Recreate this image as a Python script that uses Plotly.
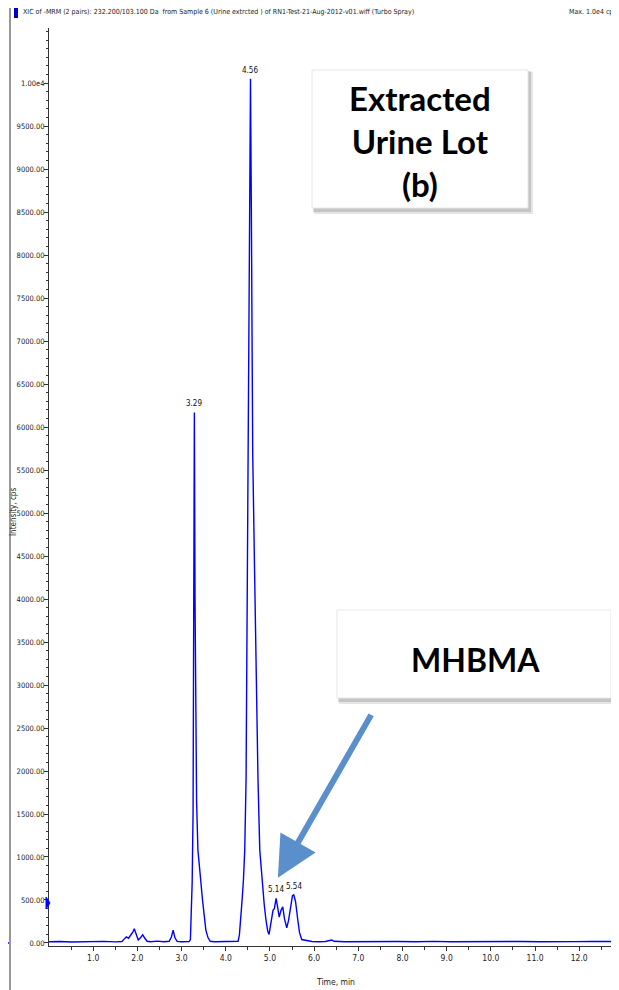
import plotly.graph_objects as go

# ---------------- data ----------------
time_min = [0.00, 0.25, 0.50, 0.75, 1.00, 1.25, 1.50, 1.65,
            1.70, 1.75, 1.80, 1.85, 1.90, 1.93, 1.97, 2.02, 2.07, 2.12, 2.17, 2.22,
            2.30, 2.45, 2.60, 2.72, 2.77, 2.81, 2.85, 2.90, 3.00, 3.10, 3.17,
            3.20, 3.22, 3.24, 3.26, 3.275, 3.29, 3.305, 3.32, 3.34, 3.37, 3.40,
            3.43, 3.47, 3.51, 3.55, 3.60, 3.65, 3.75, 3.90, 4.05, 4.20,
            4.28, 4.31, 4.34, 4.37, 4.40, 4.43, 4.46, 4.48, 4.50, 4.53, 4.56,
            4.58, 4.61, 4.65, 4.69, 4.73, 4.77, 4.82, 4.87, 4.91, 4.95, 4.98,
            5.02, 5.07, 5.10, 5.14, 5.18, 5.21, 5.25, 5.29, 5.33, 5.38, 5.42,
            5.47, 5.51, 5.54, 5.58, 5.63, 5.67, 5.72, 5.78, 5.85, 5.95,
            6.10, 6.25, 6.40, 6.45, 6.70, 7.10, 7.50, 7.90, 8.30, 8.70, 9.10,
            9.50, 9.90, 10.30, 10.70, 11.10, 11.50, 11.90, 12.30, 12.70, 12.90]
intensity_cps = [15, 18, 12, 16, 14, 19, 13, 17,
                 45, 70, 55, 90, 130, 165, 110, 35, 60, 95, 55, 20,
                 15, 22, 14, 20, 70, 150, 60, 18, 15, 14, 16,
                 40, 300, 700, 1500, 3500, 6170, 4000, 2500, 1650, 1080, 950,
                 750, 520, 300, 150, 60, 20, 15, 18, 14, 16,
                 20, 100, 270, 500, 730, 1080, 1900, 3500, 5700, 8300, 10050,
                 8500, 5700, 4400, 3100, 1900, 1080, 730, 450, 270, 140, 100,
                 220, 380, 400, 520, 400, 300, 380, 420, 280, 175, 260,
                 430, 550, 560, 480, 270, 120, 40, 35, 25, 18,
                 15, 18, 35, 20, 14, 17, 13, 18, 15, 19, 14,
                 17, 20, 15, 18, 14, 19, 16, 18, 15, 16]

peak_times = [3.29, 4.56, 5.14, 5.54]
peak_heights = [6170, 10050, 520, 560]
peak_labels = ["3.29", "4.56", "5.14", "5.54"]

y_tick_vals = [0, 500, 1000, 1500, 2000, 2500, 3000, 3500, 4000, 4500, 5000,
               5500, 6000, 6500, 7000, 7500, 8000, 8500, 9000, 9500, 10000]
y_tick_text = ["0.00", "500.00", "1000.00", "1500.00", "2000.00", "2500.00",
               "3000.00", "3500.00", "4000.00", "4500.00", "5000.00", "5500.00",
               "6000.00", "6500.00", "7000.00", "7500.00", "8000.00", "8500.00",
               "9000.00", "9500.00", "1.00e4"]
x_tick_vals = [1, 2, 3, 4, 5, 6, 7, 8, 9, 10, 11, 12]
x_tick_text = ["1.0", "2.0", "3.0", "4.0", "5.0", "6.0", "7.0", "8.0",
               "9.0", "10.0", "11.0", "12.0"]

header_text = ("XIC of -MRM (2 pairs): 232.200/103.100 Da  from Sample 6 (Urine extrcted ) "
               "of RN1-Test-21-Aug-2012-v01.wiff (Turbo Spray)")
max_text = "Max. 1.0e4 cps."

# ---------------- layout geometry ----------------
# the page body has an 8px margin, so the figure is drawn 8px in from the corner
OFF = 8
W, H = 619 - OFF, 990 - OFF
L, R, T, B = 49 - OFF, 619 - OFF, 28 - OFF, 946 - OFF


def px(xr):
    """reference-picture x pixel -> paper x"""
    return (xr - OFF - L) / (R - L)


def py(yr):
    """reference-picture y pixel -> paper y"""
    return (B - (yr - OFF)) / (B - T)


NARROW = "Liberation Sans Narrow, Arial Narrow, DejaVu Sans Condensed, sans-serif"
BOLD = "Lato, Open Sans, sans-serif"

fig = go.Figure()
fig.add_trace(go.Scatter(x=time_min, y=intensity_cps, mode="lines",
                         line=dict(color="#0000ff", width=1.4),
                         hoverinfo="skip", showlegend=False))

annotations = []
for t, h, lab in zip(peak_times, peak_heights, peak_labels):
    annotations.append(dict(x=t, y=h, text=lab, showarrow=False, yanchor="bottom",
                            yshift=2, font=dict(family=NARROW, size=8, color="#111")))

# header
annotations.append(dict(xref="paper", yref="paper", x=px(21), y=py(12), text=header_text,
                        showarrow=False, xanchor="left", yanchor="middle",
                        font=dict(family=NARROW, size=7, color="#222")))
annotations.append(dict(xref="paper", yref="paper", x=px(567), y=py(12), text=max_text,
                        showarrow=False, xanchor="left", yanchor="middle",
                        font=dict(family=NARROW, size=7, color="#222")))
# axis titles
annotations.append(dict(xref="paper", yref="paper", x=px(335), y=py(982), text="Time, min",
                        showarrow=False, xanchor="center", yanchor="middle",
                        font=dict(family=NARROW, size=8.5, color="#222")))
annotations.append(dict(xref="paper", yref="paper", x=px(13), y=py(512), text="Intensity, cps",
                        showarrow=False, textangle=-90, xanchor="center", yanchor="middle",
                        font=dict(family=NARROW, size=8, color="#222")))
# callout texts
annotations.append(dict(xref="paper", yref="paper", x=px(420), y=py(141),
                        text="<b>Extracted</b><br><b>Urine Lot</b><br><b>(b)</b>",
                        showarrow=False, xanchor="center", yanchor="middle",
                        font=dict(family=BOLD, size=33, color="#000")))
annotations.append(dict(xref="paper", yref="paper", x=px(475), y=py(659),
                        text="<b>MHBMA</b>",
                        showarrow=False, xanchor="center", yanchor="middle",
                        font=dict(family=BOLD, size=32, color="#000")))
# arrow
annotations.append(dict(x=5.18, y=760, ax=7.31, ay=2670, axref="x", ayref="y",
                        xref="x", yref="y", text="", showarrow=True, arrowhead=2,
                        arrowsize=1.35, arrowwidth=6, arrowcolor="#5B8FCB"))

shapes = []
# frame lines
shapes.append(dict(type="line", xref="paper", yref="paper", x0=px(10), x1=px(10),
                   y0=py(3), y1=py(990), line=dict(color="#333", width=1)))
shapes.append(dict(type="line", xref="paper", yref="paper", x0=px(10), x1=px(619),
                   y0=py(3), y1=py(3), line=dict(color="#333", width=1)))
shapes.append(dict(type="rect", xref="paper", yref="paper", x0=px(14), x1=px(18),
                   y0=py(18), y1=py(6), fillcolor="#0000cc", line=dict(width=0)))
shapes.append(dict(type="line", xref="paper", yref="paper", x0=px(8), x1=px(9),
                   y0=py(943), y1=py(943), line=dict(color="#0000ff", width=1.4)))
shapes.append(dict(type="path", xref="paper", yref="paper",
                   path="M {} {} L {} {} L {} {} Z".format(px(46), py(897), px(50), py(903),
                                                          px(46), py(909)),
                   fillcolor="#0000ff", line=dict(color="#0000ff", width=1)))
# callout boxes with shadows
for (x0, y0, x1, y1) in [(312, 70, 528, 208), (337, 610, 611, 698)]:
    shapes.append(dict(type="rect", xref="paper", yref="paper", x0=px(x0 + 2), x1=px(x1 + 5),
                       y0=py(y1 + 6), y1=py(y0 + 2), fillcolor="rgba(0,0,0,0.10)",
                       line=dict(width=0), layer="above"))
    shapes.append(dict(type="rect", xref="paper", yref="paper", x0=px(x0 + 1), x1=px(x1 + 3),
                       y0=py(y1 + 4), y1=py(y0 + 1), fillcolor="rgba(0,0,0,0.14)",
                       line=dict(width=0), layer="above"))
    shapes.append(dict(type="rect", xref="paper", yref="paper", x0=px(x0), x1=px(x1),
                       y0=py(y1), y1=py(y0), fillcolor="#ffffff",
                       line=dict(color="#e6e6e6", width=1), layer="above"))

fig.update_layout(
    width=W, height=H,
    margin=dict(l=L, r=W - R, t=T, b=H - B, pad=0, autoexpand=False),
    paper_bgcolor="white", plot_bgcolor="white",
    showlegend=False,
    annotations=annotations,
    shapes=shapes,
    xaxis=dict(range=[0, 12.9], showgrid=False, zeroline=False, showline=True,
               automargin=False,
               linecolor="#333", linewidth=1, ticks="outside", ticklen=4, tickcolor="#333",
               tickvals=x_tick_vals, ticktext=x_tick_text,
               tickfont=dict(family=NARROW, size=8.5, color="#222"),
               minor=dict(tickvals=[0.5, 1.5, 2.5, 3.5, 4.5, 5.5, 6.5, 7.5, 8.5, 9.5,
                                    10.5, 11.5, 12.5],
                          ticks="outside", ticklen=3, tickcolor="#333")),
    yaxis=dict(range=[-35, 10640], showgrid=False, zeroline=False, showline=True,
               automargin=False, ticklabelstandoff=-2,
               linecolor="#333", linewidth=1, ticks="outside", ticklen=4, tickcolor="#333",
               tickvals=y_tick_vals, ticktext=y_tick_text,
               tickfont=dict(family=NARROW, size=7.5, color="#222"),
               minor=dict(dtick=100, tick0=0, ticks="outside", ticklen=2,
                          tickcolor="#333")),
)

fig.write_html("out.html")
